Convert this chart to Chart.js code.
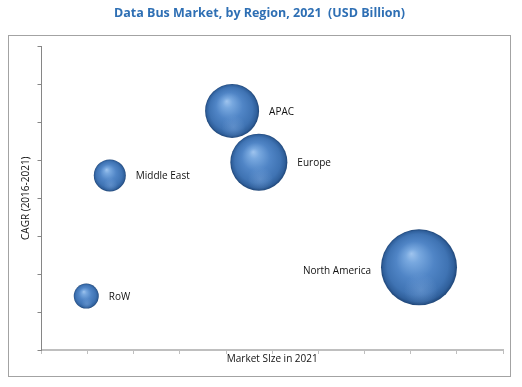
<!DOCTYPE html>
<html>
<head>
<meta charset="utf-8">
<script src="https://cdn.jsdelivr.net/npm/chart.js@4/dist/chart.umd.min.js"></script>
<style>
  html, body { margin: 0; padding: 0; background: #fff; }
  #wrap { width: 522px; height: 387px; position: relative; }
</style>
</head>
<body>
<div id="wrap"><canvas id="c" width="522" height="387"></canvas></div>
<script>
// ---- data ----
const regions = ["APAC", "Europe", "Middle East", "RoW", "North America"];
const marketSize = [4.13, 4.71, 1.48, 0.97, 8.18];   // x
const cagr = [6.3, 4.95, 4.6, 1.42, 2.18];            // y
const bubbleSize = [27, 28.5, 16, 12.5, 38];          // relative bubble size
const xTicks = [0, 1, 2, 3, 4, 5, 6, 7, 8, 9, 10];
const yTicks = [0, 1, 2, 3, 4, 5, 6, 7, 8];

const points = regions.map((name, i) => ({ x: marketSize[i], y: cagr[i], r: bubbleSize[i], label: name }));

function sphereFill(ctx) {
  const chart = ctx.chart;
  const raw = ctx.raw;
  if (!raw || !chart.chartArea) return '#4f86c6';
  const cx = chart.scales.x.getPixelForValue(raw.x);
  const cy = chart.scales.y.getPixelForValue(raw.y);
  const r = raw.r;
  const g = chart.ctx.createRadialGradient(cx - 0.2 * r, cy - 0.36 * r, 0, cx, cy, r);
  g.addColorStop(0.0, '#9fc4ee');
  g.addColorStop(0.18, '#78a8df');
  g.addColorStop(0.5, '#5085c6');
  g.addColorStop(0.8, '#3f73b3');
  g.addColorStop(0.93, '#30609c');
  g.addColorStop(1.0, '#1f4678');
  return g;
}

const framePlugin = {
  id: 'frame',
  beforeDraw(chart) {
    const c = chart.ctx;
    c.save();
    c.fillStyle = '#fff';
    c.fillRect(0, 0, chart.width, chart.height);
    c.strokeStyle = '#a3a3a3';
    c.lineWidth = 1;
    c.strokeRect(8.5, 35.5, 502, 341);
    c.restore();
  }
};

const labelPlugin = {
  id: 'bubbleLabels',
  afterDatasetsDraw(chart) {
    const c = chart.ctx;
    const meta = chart.getDatasetMeta(0);
    const area = chart.chartArea;
    c.save();
    // soft lower reflection on each sphere
    meta.data.forEach((el) => {
      const r = el.options.radius;
      c.save();
      c.beginPath();
      c.arc(el.x, el.y, r, 0, Math.PI * 2);
      c.clip();
      const g = c.createRadialGradient(el.x + 0.05 * r, el.y + 0.6 * r, 0, el.x + 0.05 * r, el.y + 0.6 * r, 0.45 * r);
      g.addColorStop(0, 'rgba(140,180,230,0.35)');
      g.addColorStop(1, 'rgba(140,180,230,0)');
      c.fillStyle = g;
      c.fillRect(el.x - r, el.y - r, 2 * r, 2 * r);
      c.restore();
    });
    c.font = '10px "Open Sans", sans-serif';
    c.fillStyle = '#111';
    c.textBaseline = 'middle';
    meta.data.forEach((el, i) => {
      const r = el.options.radius;
      const txt = chart.data.datasets[0].data[i].label;
      const w = c.measureText(txt).width;
      const gap = 10;
      if (el.x + r + gap + w > area.right) {
        c.textAlign = 'right';
        c.fillText(txt, el.x - r - gap, el.y + 4);
      } else {
        c.textAlign = 'left';
        c.fillText(txt, el.x + r + gap, el.y + 1);
      }
    });
    c.restore();
  }
};

new Chart(document.getElementById('c'), {
  type: 'bubble',
  data: {
    datasets: [{
      data: points,
      backgroundColor: sphereFill,
      borderWidth: 0,
      hoverBorderWidth: 0
    }]
  },
  options: {
    responsive: false,
    animation: false,
    events: [],
    layout: { autoPadding: false, padding: { left: 16, right: 19, top: 0, bottom: 18 } },
    plugins: {
      legend: { display: false },
      tooltip: { enabled: false },
      title: {
        display: true,
        text: 'Data Bus Market, by Region, 2021  (USD Billion)',
        color: '#2e6fb4',
        font: { family: '"Open Sans", sans-serif', size: 12.5, weight: 'bold' },
        padding: { top: 6, bottom: 25.4 }
      }
    },
    scales: {
      x: {
        type: 'linear',
        min: xTicks[0],
        max: xTicks[xTicks.length - 1],
        afterBuildTicks: (s) => { s.ticks = xTicks.map(v => ({ value: v })); },
        ticks: { display: false },
        grid: { drawOnChartArea: false, drawTicks: true, tickLength: 4, color: '#bfbfbf', lineWidth: 1 },
        border: { display: true, color: '#bfbfbf', width: 2 },
        title: {
          display: true, text: 'Market SIze in 2021', color: '#111',
          font: { family: '"Open Sans", sans-serif', size: 10 },
          padding: { top: -1, bottom: 4 }
        }
      },
      y: {
        type: 'linear',
        min: yTicks[0],
        max: yTicks[yTicks.length - 1],
        afterBuildTicks: (s) => { s.ticks = yTicks.map(v => ({ value: v })); },
        ticks: { display: false },
        grid: { drawOnChartArea: false, drawTicks: true, tickLength: 4, color: '#868686', lineWidth: 1 },
        border: { display: true, color: '#868686', width: 1 },
        title: {
          display: true, text: 'CAGR (2016-2021)', color: '#111',
          font: { family: '"Open Sans", sans-serif', size: 10 },
          padding: { top: 4, bottom: 5.5 }
        }
      }
    }
  },
  plugins: [framePlugin, labelPlugin]
});
</script>
</body>
</html>
